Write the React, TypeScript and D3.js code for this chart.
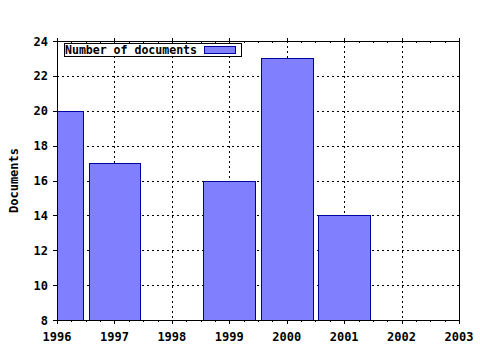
import React from "react";
import * as d3 from "d3";

const years = [1996, 1997, 1998, 1999, 2000, 2001, 2002, 2003];
const barYears = [1996, 1997, 1999, 2000, 2001];
const barValues = [20, 17, 16, 23, 14];
const yTicks = [8, 10, 12, 14, 16, 18, 20, 22, 24];
const seriesName = "Number of documents";
const yTitle = "Documents";

const W = 480, H = 350;
const L = 57, R = 459, T = 41, B = 320;
const FONT = "'DejaVu Sans Mono', monospace";

export default function App() {
  const x = d3.scaleLinear().domain([1996, 2003]).range([L, R]);
  const y = d3.scaleLinear().domain([8, 24]).range([B, T]);
  const step = x(1997) - x(1996);
  const bw = step * 0.9;
  const minor = d3.range(1996, 2003.001, 0.25).filter((v) => Math.abs(v - Math.round(v)) > 0.01);

  return (
    <svg width={W} height={H} style={{ position: "absolute", left: 0, top: 0, background: "#fff" }}>
      <defs>
        <clipPath id="plot">
          <rect x={L} y={T} width={R - L} height={B - T} />
        </clipPath>
      </defs>
      <rect x={0} y={0} width={W} height={H} fill="#fff" />
      {/* grid */}
      <g stroke="#000" strokeWidth={1} strokeDasharray="2,3" shapeRendering="crispEdges">
        {years.slice(1, -1).map((v) => (
          <line key={"gx" + v} x1={Math.round(x(v)) + 0.5} x2={Math.round(x(v)) + 0.5} y1={T} y2={B} />
        ))}
        {yTicks.slice(1, -1).map((v) => (
          <line key={"gy" + v} x1={L} x2={R} y1={Math.round(y(v)) + 0.5} y2={Math.round(y(v)) + 0.5} />
        ))}
      </g>
      {/* bars */}
      <g clipPath="url(#plot)" shapeRendering="crispEdges">
        {barYears.map((yr, i) => {
          const x0 = Math.round(x(yr) - bw / 2);
          const x1 = Math.round(x(yr) + bw / 2);
          const yt = Math.round(y(barValues[i]));
          return (
            <rect key={yr} x={x0 + 0.5} y={yt + 0.5} width={x1 - x0} height={B - yt}
              fill="#8080ff" stroke="#0000a0" strokeWidth={1} />
          );
        })}
      </g>
      {/* frame */}
      <g stroke="#000" strokeWidth={1} shapeRendering="crispEdges" fill="none">
        <rect x={L + 0.5} y={T + 0.5} width={R - L} height={B - T} />
        {years.map((v) => (
          <g key={"t" + v}>
            <line x1={Math.round(x(v)) + 0.5} x2={Math.round(x(v)) + 0.5} y1={B} y2={B + 4} />
            <line x1={Math.round(x(v)) + 0.5} x2={Math.round(x(v)) + 0.5} y1={T - 3} y2={T} />
          </g>
        ))}
        {minor.map((v) => (
          <g key={"m" + v}>
            <line x1={Math.round(x(v)) + 0.5} x2={Math.round(x(v)) + 0.5} y1={B} y2={B + 2} />
            <line x1={Math.round(x(v)) + 0.5} x2={Math.round(x(v)) + 0.5} y1={T} y2={T + 2} />
          </g>
        ))}
        {yTicks.map((v) => (
          <line key={"yt" + v} x1={L - 4} x2={L} y1={Math.round(y(v)) + 0.5} y2={Math.round(y(v)) + 0.5} />
        ))}
      </g>
      {/* labels */}
      <g fontFamily={FONT} fontWeight="bold" fontSize={12} fill="#000">
        {years.map((v) => (
          <text key={"xl" + v} x={x(v)} y={341} textAnchor="middle">{v}</text>
        ))}
        {yTicks.map((v) => (
          <text key={"yl" + v} x={48} y={y(v) + 4.5} textAnchor="end">{v}</text>
        ))}
        <text transform={`translate(18,${(T + B) / 2}) rotate(-90)`} textAnchor="middle">{yTitle}</text>
      </g>
      {/* legend */}
      <g shapeRendering="crispEdges">
        <rect x={64.5} y={43.5} width={177} height={13} fill="#fff" stroke="#000" />
        <text x={65} y={54} fontFamily={FONT} fontWeight="bold" fontSize={11.6}
          textLength={132} lengthAdjust="spacing">{seriesName}</text>
        <rect x={204.5} y={46.5} width={31} height={7} fill="#8080ff" stroke="#0000a0" />
      </g>
    </svg>
  );
}
